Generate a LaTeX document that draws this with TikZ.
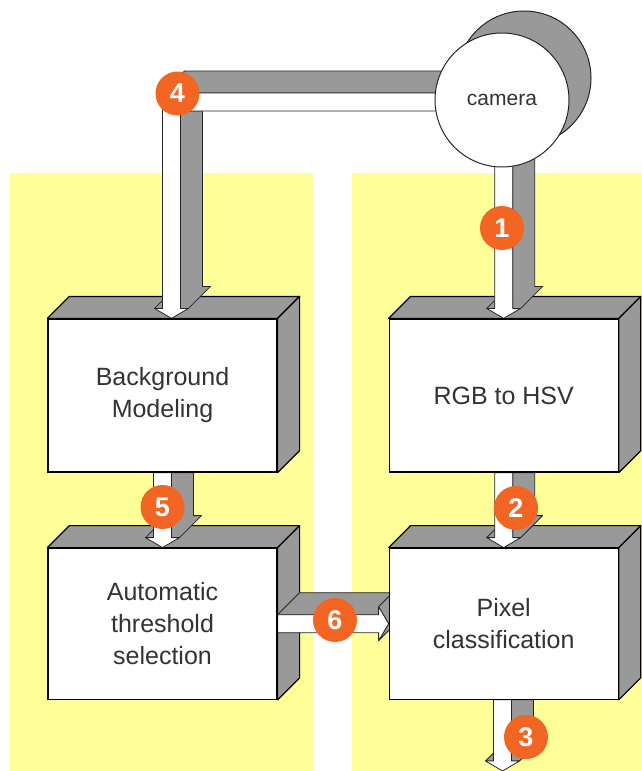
\documentclass[tikz,border=0pt]{standalone}
\usepackage{fontspec}
\setmainfont{Liberation Sans}
\usetikzlibrary{calc,positioning}

\definecolor{panelyellow}{RGB}{255,255,153}
\definecolor{sidegray}{RGB}{153,153,153}
\definecolor{markorange}{RGB}{242,101,34}

\pgfdeclarelayer{back}
\pgfdeclarelayer{mid}
\pgfsetlayers{back,mid,main}

\tikzset{
  block/.style={draw=black, fill=white, line width=1.2pt, minimum width=229, minimum height=153,
    inner sep=0pt, align=center, text=black!80, font=\fontsize{25}{32}\selectfont},
  boxface/.style={draw=black, fill=sidegray, line width=1.2pt, line join=round},
  flowside/.style={draw=black!85, fill=sidegray, line width=0.8pt, line join=round},
  flowfront/.style={draw=black!85, fill=white, line width=0.8pt, line join=round},
  camera/.style={circle, draw=black!85, fill=white, line width=1pt, minimum size=134,
    inner sep=0pt, text=black!80, font=\fontsize{21}{21}\selectfont},
  badge/.style={circle, fill=markorange, text=white, minimum size=44, inner sep=0pt,
    font=\fontsize{27}{27}\selectfont\bfseries},
}

% top and side faces of a block
\newcommand{\extrude}[1]{%
  \begin{pgfonlayer}{back}
    \draw[boxface] (#1.north west) -- ++(22,-22) -- ($(#1.north east)+(22,-22)$) -- (#1.north east) -- cycle;
    \draw[boxface] (#1.north east) -- ++(22,-22) -- ($(#1.south east)+(22,-22)$) -- (#1.south east) -- cycle;
  \end{pgfonlayer}}

% solid arrow going down from #1 to #2
\newcommand{\downflow}[2]{%
  \begin{pgfonlayer}{mid}
    \coordinate (tip) at (#2);
    \coordinate (tail) at (#2 |- #1);
    \draw[flowside] ($(tail)+(9,0)$) -- ($(tail)+(31,0)$) -- ($(tip)+(31,-32)$)
      -- ($(tip)+(39,-32)$) -- ($(tip)+(17,-10)$) -- ($(tip)+(9,-10)$) -- cycle;
    \draw[flowside] ($(tip)+(-17,-10)$) -- ($(tip)+(-9,-10)$) -- ($(tip)+(-9,-18)$) -- cycle;
    \draw[flowfront] ($(tail)+(-9,0)$) -- ($(tail)+(9,0)$) -- ($(tip)+(9,-10)$)
      -- ($(tip)+(17,-10)$) -- (tip) -- ($(tip)+(-17,-10)$) -- ($(tip)+(-9,-10)$) -- cycle;
  \end{pgfonlayer}}

\begin{document}
\begin{tikzpicture}[x=1pt, y=-1pt]
  \useasboundingbox (0,0) rectangle (642,771);

  \begin{pgfonlayer}{back}
    \fill[panelyellow] (10,173) rectangle (313,771);
    \fill[panelyellow] (352,173) rectangle (642,771);
  \end{pgfonlayer}

  % blocks
  \node[block] (bg) at (162.5,395.5) {Background\\Modeling};
  \node[block] (rgb) [right=111pt of bg] {RGB to HSV};
  \node[block, minimum height=151] (aut) [below=75pt of bg] {Automatic\\threshold\\selection};
  \node[block, minimum height=151] (pix) [right=111pt of aut] {Pixel\\classification};
  \extrude{bg}
  \extrude{rgb}
  \extrude{aut}
  \extrude{pix}

  \node[camera] (cam) at (502,100) {camera};
  \coordinate (out) at (502.5,771);

  % arrows
  \downflow{cam.center}{rgb.north}
  \downflow{rgb.south}{pix.north}
  \downflow{pix.south}{out}
  \downflow{bg.south}{aut.north}

  \begin{pgfonlayer}{mid}
    % camera to background modeling
    \coordinate (tip) at ([xshift=9pt]bg.north);
    \coordinate (knee) at ($(tip |- cam.center)+(0,2)$);
    \coordinate (tail) at (cam.center |- knee);
    \draw[flowside] ($(knee)+(-9,-9)$) -- ($(knee)+(13,-31)$) -- ($(tail)+(0,-31)$) -- ($(tail)+(0,-9)$) -- cycle;
    \draw[flowside] ($(knee)+(9,9)$) -- ($(knee)+(31,9)$) -- ($(tip)+(31,-32)$)
      -- ($(tip)+(39,-32)$) -- ($(tip)+(17,-10)$) -- ($(tip)+(9,-10)$) -- cycle;
    \draw[flowside] ($(tip)+(-17,-10)$) -- ($(tip)+(-9,-10)$) -- ($(tip)+(-9,-18)$) -- cycle;
    \draw[flowfront] ($(tail)+(0,-9)$) -- ($(knee)+(-9,-9)$) -- ($(tip)+(-9,-10)$) -- ($(tip)+(-17,-10)$)
      -- (tip) -- ($(tip)+(17,-10)$) -- ($(tip)+(9,-10)$) -- ($(knee)+(9,9)$) -- ($(tail)+(0,9)$) -- cycle;

    % threshold to pixel classification
    \coordinate (tip) at (pix.west);
    \coordinate (tail) at (aut.east |- pix.west);
    \draw[flowside] ($(tail)+(0,-9)$) -- ($(tail)+(22,-31)$) -- ($(tip)+(12,-31)$) -- ($(tip)+(-10,-9)$) -- cycle;
    \draw[flowside] ($(tip)+(-10,-17)$) -- ($(tip)+(12,-39)$) -- ($(tip)+(22,-22)$) -- ($(tip)+(12,-5)$)
      -- ($(tip)+(-10,17)$) -- (tip) -- cycle;
    \draw[flowfront] ($(tail)+(0,-9)$) -- ($(tip)+(-10,-9)$) -- ($(tip)+(-10,-17)$) -- (tip)
      -- ($(tip)+(-10,17)$) -- ($(tip)+(-10,9)$) -- ($(tail)+(0,9)$) -- cycle;

    % back of the camera
    \draw[flowside, line width=1pt] ($(cam.center)+(22,-22)$) circle[radius=67];
  \end{pgfonlayer}

  % step numbers
  \node[badge] (n1) at (502,228) {1};
  \node[badge] (n2) at (516,508) {2};
  \node[badge] (n3) at (526,737) {3};
  \node[badge] (n4) at (177.5,93.5) {4};
  \node[badge] (n5) at (162.5,507) {5};
  \node[badge] (n6) at (335,620) {6};
\end{tikzpicture}
\end{document}
